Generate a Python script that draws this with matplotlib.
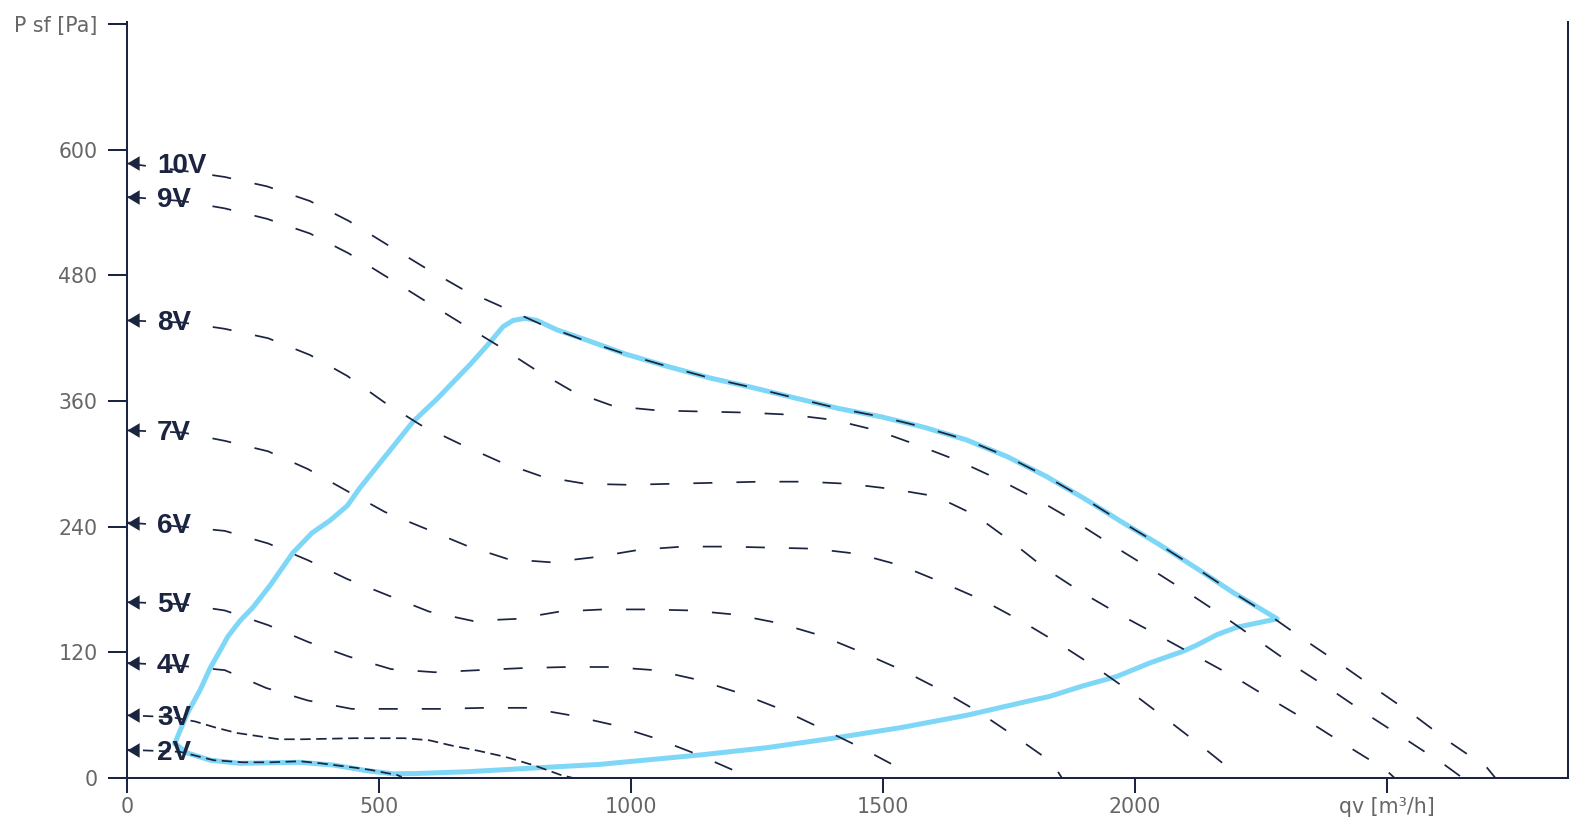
import matplotlib
matplotlib.use("Agg")
import matplotlib.pyplot as plt
from matplotlib.path import Path

# ---------------- data ----------------
voltage_labels = ["2V", "3V", "4V", "5V", "6V", "7V", "8V", "9V", "10V"]

q_2v = [0, 105, 172, 230, 285, 343, 385, 425, 458, 485, 512, 535, 545]
p_2v = [27, 25, 17, 15, 15, 16, 14, 11.5, 9.5, 7.6, 5, 3, 1]

q_3v = [0, 90, 135, 177, 218, 260, 302, 350, 450, 550, 600, 644, 697, 752, 808, 860, 885]
p_3v = [60, 58, 54, 48, 43, 40, 37, 37, 38, 38, 36, 31, 26, 20, 12, 3, 0]

q_4v = [0, 110, 194, 276, 359, 446, 534, 621, 708, 796, 879, 962, 1048, 1129, 1210, 1228]
p_4v = [110, 107, 103, 86, 74, 66, 66, 66, 67, 67, 60, 51, 38, 23, 6, 0]

q_5v = [0, 110, 194, 280, 359, 440, 524, 611, 698, 786, 873, 960, 1047, 1131, 1216, 1296, 1375, 1452, 1530, 1555]
p_5v = [168, 166, 160, 146, 130, 116, 104, 101, 103, 105, 106, 106, 103, 94, 81, 66, 48, 30, 10, 0]

q_6v = [0, 110, 194, 280, 359, 437, 520, 599, 686, 774, 859, 945, 1033, 1120, 1208, 1292, 1377, 1458, 1538, 1615, 1690, 1764, 1835, 1855]
p_6v = [244, 240, 236, 224, 208, 190, 174, 159, 150, 152, 159, 161, 161, 160, 156, 148, 136, 120, 103, 84, 63, 39, 15, 0]

q_7v = [0, 110, 194, 280, 359, 437, 512, 593, 673, 756, 841, 930, 1017, 1103, 1190, 1278, 1363, 1451, 1535, 1616, 1697, 1774, 1847, 1921, 1992, 2063, 2133, 2195, 2205]
p_7v = [332, 330, 322, 312, 295, 274, 254, 238, 222, 209, 206, 211, 218, 221, 221, 220, 219, 214, 203, 187, 170, 150, 129, 106, 82, 56, 30, 6, 0]

q_8v = [0, 110, 194, 280, 363, 437, 510, 583, 661, 740, 823, 909, 996, 1083, 1170, 1258, 1345, 1431, 1518, 1605, 1683, 1754, 1822, 1895, 1970, 2047, 2123, 2199, 2274, 2351, 2423, 2497, 2515]
p_8v = [437, 435, 429, 420, 404, 384, 359, 337, 319, 302, 288, 281, 280, 281, 282, 283, 283, 281, 276, 269, 251, 226, 200, 177, 156, 136, 116, 96, 74, 52, 30, 8, 0]

q_9v = [0, 110, 194, 278, 363, 440, 514, 587, 661, 736, 810, 885, 966, 1054, 1140, 1228, 1315, 1402, 1487, 1568, 1649, 1730, 1806, 1881, 1956, 2030, 2105, 2177, 2248, 2319, 2393, 2466, 2540, 2613, 2650]
p_9v = [555, 551, 544, 534, 520, 501, 479, 457, 435, 413, 390, 369, 355, 351, 350, 349, 347, 342, 332, 318, 303, 285, 266, 245, 222, 200, 177, 154, 130, 106, 83, 59, 36, 13, 0]

q_10v = [0, 110, 194, 278, 363, 440, 514, 589, 665, 744, 823, 907, 988, 1073, 1157, 1240, 1325, 1411, 1496, 1581, 1665, 1746, 1824, 1899, 1972, 2048, 2123, 2195, 2268, 2339, 2413, 2484, 2556, 2625, 2698, 2715]
p_10v = [587, 580, 574, 565, 551, 532, 510, 488, 467, 450, 433, 418, 405, 393, 382, 373, 363, 353, 345, 335, 323, 307, 288, 267, 245, 223, 200, 177, 155, 131, 107, 83, 59, 34, 10, 0]

# working range envelope (closed loop)
q_range = [95, 105, 120, 145, 165, 185, 200, 224, 250, 284, 329, 367, 403, 437, 462, 522, 567, 615, 681, 720, 746, 766, 790, 813, 853, 925,
           988, 1073, 1157, 1240, 1325, 1411, 1496, 1581, 1665, 1746, 1824, 1899, 1972, 2048, 2123, 2195, 2282,
           2242, 2202, 2163, 2123, 2095, 2030, 1964, 1897, 1831, 1798, 1667, 1534, 1401, 1270, 1137, 1004, 938, 806, 675, 575, 528, 476, 409, 343, 224, 165, 119, 95]
p_range = [33, 45, 62, 84, 105, 122, 135, 150, 163, 184, 215, 234, 246, 260, 277, 313, 340, 362, 395, 416, 431, 437, 439, 437, 428, 416,
           405, 393, 382, 373, 363, 353, 345, 335, 323, 307, 288, 267, 245, 223, 200, 177, 152,
           148, 144, 137, 127, 121, 110, 97, 88, 78, 74.5, 60, 48, 38, 29, 22, 16, 13, 9.5, 6, 4.3, 4, 7, 12.4, 15, 14, 17, 24, 33]

x_ticks = [0, 500, 1000, 1500, 2000, 2500]
x_tick_labels = ["0", "500", "1000", "1500", "2000", "qv [m³/h]"]
y_ticks = [0, 120, 240, 360, 480, 600, 720]
y_tick_labels = ["0", "120", "240", "360", "480", "600", "P sf [Pa]"]

series_q = [q_2v, q_3v, q_4v, q_5v, q_6v, q_7v, q_8v, q_9v, q_10v]
series_p = [p_2v, p_3v, p_4v, p_5v, p_6v, p_7v, p_8v, p_9v, p_10v]

# ---------------- style ----------------
NAVY = "#1b2440"
GREY = "#666666"
BLUE = "#7fd7f7"
plt.rcParams["lines.scale_dashes"] = False
plt.rcParams["font.family"] = ["DejaVu Sans"]

fig = plt.figure(figsize=(15.92, 8.32), dpi=100)
ax = fig.add_axes([127 / 1592, 54 / 832, 1441 / 1592, 756 / 832])
ax.set_xlim(0, 2859)
ax.set_ylim(0, 722)

# envelope
ax.plot(q_range, p_range, color=BLUE, lw=3.6, solid_joinstyle="round", solid_capstyle="round", zorder=2)

# arrow-head marker whose tip sits on the data point
arrow = Path([(0, 0), (1, 0.6), (1, -0.6), (0, 0)],
             [Path.MOVETO, Path.LINETO, Path.LINETO, Path.CLOSEPOLY])

for lab, q, p in zip(voltage_labels, series_q, series_p):
    short = lab in ("2V", "3V")
    dashes = (7.5, 4.0) if short else (13.7, 17.3)
    ax.plot(q, p, color=NAVY, lw=1.25, dashes=dashes, zorder=3,
            marker=arrow, markevery=[0], markersize=17.5,
            markerfacecolor=NAVY, markeredgewidth=0, clip_on=False)
    ax.annotate(lab, xy=(q[0], p[0]), xytext=(21.6, -7.2), textcoords="offset points",
                ha="left", va="baseline", fontsize=20, fontweight="bold",
                family=["Liberation Sans", "DejaVu Sans"], color=NAVY, zorder=5)

# axes styling
for side in ("left", "bottom", "right"):
    ax.spines[side].set_color(NAVY)
    ax.spines[side].set_linewidth(1.45)
ax.spines["top"].set_visible(False)

ax.set_xticks(x_ticks)
ax.set_xticklabels(x_tick_labels)
ax.set_yticks(y_ticks)
ax.set_yticklabels(y_tick_labels)
ax.tick_params(axis="x", length=10.8, width=1.45, color=NAVY, labelcolor=GREY, labelsize=14.8, pad=3)
ax.tick_params(axis="y", length=13.7, width=1.45, color=NAVY, labelcolor=GREY, labelsize=14.8, pad=7.5)

fig.savefig("out.png", dpi=100, facecolor="white")
